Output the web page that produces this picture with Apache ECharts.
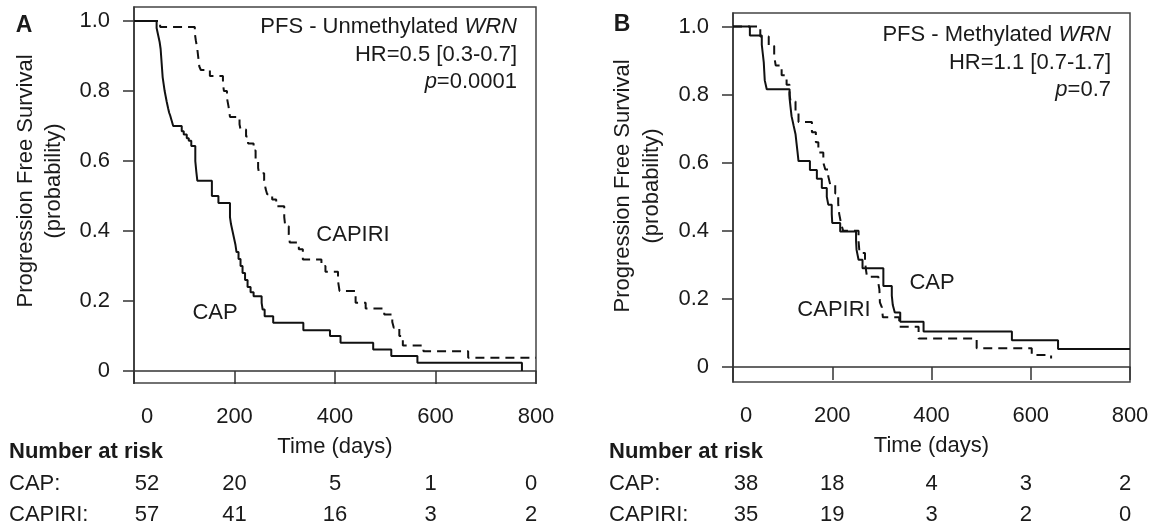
<!DOCTYPE html>
<html><head><meta charset="utf-8">
<script src="https://cdn.jsdelivr.net/npm/echarts@6.0.0/dist/echarts.min.js"></script>
<style>html,body{margin:0;padding:0;background:#fff}#c{width:1159px;height:529px}</style>
</head><body><div id="c"></div>
<script>
const FONT = '"Liberation Sans", Arial, Helvetica, sans-serif';
const INK = '#1a1a1a';

// axis ticks
const timeTicks = [0, 200, 400, 600, 800];
const survTicks = [0, 0.2, 0.4, 0.6, 0.8, 1.0];

// Panel A - Unmethylated WRN
const capA_days = [0,45,48,51,53,54,55,56,57,59,61,63,65,68,70,72,75,78,95,99,105,109,114,122,124,126,155,168,191,193,196,199,202,204,208,212,216,221,226,232,238,254,256,260,277,337,390,411,476,512,564,772];
const capA_surv = [1,0.98,0.96,0.94,0.92,0.90,0.88,0.86,0.84,0.82,0.80,0.785,0.77,0.75,0.738,0.73,0.715,0.70,0.685,0.676,0.665,0.658,0.643,0.60,0.57,0.544,0.50,0.48,0.44,0.42,0.40,0.38,0.36,0.34,0.32,0.30,0.28,0.26,0.24,0.225,0.214,0.195,0.176,0.157,0.138,0.117,0.10,0.081,0.062,0.043,0.024,0];
const capiriA_days = [0,52,121,123,126,128,130,133,151,177,179,185,188,191,210,212,223,227,238,242,247,249,259,262,265,275,283,299,301,308,310,328,336,373,381,406,409,441,461,498,514,517,528,535,576,665,800];
const capiriA_surv = [1,0.983,0.965,0.945,0.92,0.895,0.87,0.86,0.843,0.82,0.80,0.78,0.757,0.726,0.705,0.69,0.67,0.65,0.63,0.605,0.58,0.565,0.545,0.52,0.505,0.49,0.471,0.44,0.414,0.39,0.367,0.348,0.319,0.30,0.284,0.257,0.229,0.195,0.179,0.162,0.14,0.124,0.10,0.073,0.057,0.038,0.038];

// Panel B - Methylated WRN
const capB_days = [0,34,58,60,62,63,64,68,114,116,118,122,126,128,130,132,155,169,179,189,192,199,200,216,248,249,253,261,303,320,322,326,337,384,562,655,800];
const capB_surv = [1,0.974,0.947,0.921,0.895,0.868,0.842,0.816,0.79,0.763,0.737,0.71,0.684,0.658,0.632,0.605,0.579,0.553,0.526,0.50,0.477,0.45,0.423,0.398,0.37,0.344,0.315,0.29,0.238,0.21,0.182,0.16,0.133,0.104,0.079,0.053,0.053];
const capiriB_days = [0,55,72,83,86,98,108,114,116,126,132,159,167,172,182,186,192,196,206,212,214,218,222,253,255,266,268,270,293,295,296,300,302,335,374,491,602,641];
const capiriB_surv = [1,0.971,0.943,0.914,0.886,0.857,0.829,0.80,0.78,0.75,0.72,0.69,0.66,0.63,0.60,0.58,0.56,0.535,0.51,0.48,0.45,0.42,0.40,0.37,0.335,0.31,0.285,0.265,0.245,0.228,0.19,0.175,0.146,0.118,0.084,0.055,0.035,0.025];

// Numbers at risk
const riskA_cap = [52, 20, 5, 1, 0];
const riskA_capiri = [57, 41, 16, 3, 2];
const riskB_cap = [38, 18, 4, 3, 2];
const riskB_capiri = [35, 19, 3, 2, 0];

const zip = (a, b) => a.map((v, i) => [v, b[i]]);
const chart = echarts.init(document.getElementById('c'), null, {renderer: 'canvas'});

const lineCol = '#333';
function xAxis(gi) {
  return {
    gridIndex: gi, type: 'value', min: 0, max: 800, interval: 200,
    name: 'Time (days)', nameLocation: 'middle', nameGap: 53,
    nameTextStyle: {fontSize: 22, color: INK, fontFamily: FONT},
    axisLine: {show: true, lineStyle: {color: lineCol, width: 1.5}},
    axisTick: {show: true, length: 13, lineStyle: {color: lineCol, width: 1.5}},
    axisLabel: {fontSize: 22, color: INK, fontFamily: FONT, margin: 23,
      formatter: v => v === 0 ? '{z|0}' : String(v),
      rich: {z: {fontSize: 22, color: INK, fontFamily: FONT, padding: [0, 0, 0, 26]}}},
    splitLine: {show: false}
  };
}
function yAxis(gi, mn) {
  return {
    gridIndex: gi, type: 'value', min: mn, max: 1.04,
    axisLine: {show: true, lineStyle: {color: lineCol, width: 1.5}},
    axisTick: {show: true, length: 11, customValues: survTicks, lineStyle: {color: lineCol, width: 1.5}},
    axisLabel: {customValues: survTicks, fontSize: 22, color: INK, fontFamily: FONT, margin: 24,
      formatter: v => Math.abs(v) < 1e-9 ? '0' : v.toFixed(1)},
    splitLine: {show: false}
  };
}
function km(data, xi, dashed) {
  return {
    type: 'line', xAxisIndex: xi, yAxisIndex: xi, data: data, step: 'end',
    showSymbol: false, symbol: 'none', silent: true,
    lineStyle: {color: '#111', width: 2, type: dashed ? [9, 6] : 'solid'}
  };
}
function txt(x, y, text, opts) {
  opts = opts || {};
  return {
    type: 'text', x: x, y: y, rotation: opts.rot || 0, silent: true,
    style: {
      text: text, fill: INK, fontFamily: FONT, fontSize: opts.size || 22,
      fontWeight: opts.bold ? 'bold' : 'normal',
      align: opts.align || 'center', verticalAlign: 'middle',
      rich: {i: {fontStyle: 'italic', fontSize: opts.size || 22, fontFamily: FONT, fill: INK}}
    }
  };
}

chart.setOption({
  animation: false,
  backgroundColor: '#fff',
  grid: [
    {left: 134, top: 7, width: 402, height: 376, show: true, borderColor: '#444', borderWidth: 1.5, containLabel: false},
    {left: 733, top: 13, width: 397, height: 369, show: true, borderColor: '#444', borderWidth: 1.5, containLabel: false}
  ],
  xAxis: [xAxis(0), xAxis(1)],
  yAxis: [yAxis(0, -0.034), yAxis(1, -0.044)],
  series: [
    km(zip(capA_days, capA_surv), 0, false),
    km(zip(capiriA_days, capiriA_surv), 0, true),
    km(zip(capB_days, capB_surv), 1, false),
    km(zip(capiriB_days, capiriB_surv), 1, true)
  ]
});

const g = [];
// Panel letters
g.push(txt(24, 26, 'A', {bold: true, size: 23}));
g.push(txt(622, 25, 'B', {bold: true, size: 23}));
// y titles
g.push(txt(26, 181, 'Progression Free Survival', {rot: Math.PI / 2}));
g.push(txt(54, 181, '(probability)', {rot: Math.PI / 2}));
g.push(txt(623, 186, 'Progression Free Survival', {rot: Math.PI / 2}));
g.push(txt(652, 186, '(probability)', {rot: Math.PI / 2}));
// annotations
g.push(txt(517, 27, 'PFS - Unmethylated {i|WRN}', {align: 'right'}));
g.push(txt(517, 55, 'HR=0.5 [0.3-0.7]', {align: 'right'}));
g.push(txt(517, 82, '{i|p}=0.0001', {align: 'right'}));
g.push(txt(1111, 35, 'PFS - Methylated {i|WRN}', {align: 'right'}));
g.push(txt(1111, 63, 'HR=1.1 [0.7-1.7]', {align: 'right'}));
g.push(txt(1111, 90, '{i|p}=0.7', {align: 'right'}));
// curve labels
g.push(txt(353, 235, 'CAPIRI'));
g.push(txt(215, 313, 'CAP'));
g.push(txt(932, 283, 'CAP'));
g.push(txt(834, 310, 'CAPIRI'));
// number at risk tables
const rowY = [484, 515];
const offs = [13, 0, 0, -5, -5];
function riskTable(xi, leftX, capRow, capiriRow) {
  g.push(txt(leftX, 452, 'Number at risk', {bold: true, align: 'left'}));
  g.push(txt(leftX, rowY[0], 'CAP:', {align: 'left'}));
  g.push(txt(leftX, rowY[1], 'CAPIRI:', {align: 'left'}));
  [capRow, capiriRow].forEach((row, r) => {
    row.forEach((n, i) => {
      const px = chart.convertToPixel({xAxisIndex: xi}, timeTicks[i]);
      g.push(txt(px + offs[i], rowY[r], String(n)));
    });
  });
}
riskTable(0, 9, riskA_cap, riskA_capiri);
riskTable(1, 609, riskB_cap, riskB_capiri);

chart.setOption({graphic: g});
</script></body></html>
